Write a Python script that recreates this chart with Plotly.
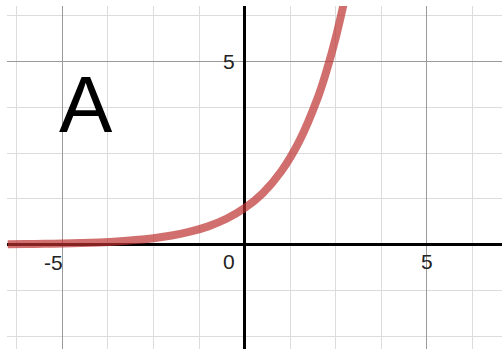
import plotly.graph_objects as go

# Curve points
curve_x = [-6.5, -6.0, -5.5, -5.0, -4.5, -4.0, -3.5, -3.0, -2.5, -2.0, -1.5, -1.0,
           -0.5, 0.0, 0.5, 1.0, 1.5, 2.0, 2.25, 2.5, 2.75]
curve_y = [0.011, 0.016, 0.022, 0.031, 0.044, 0.0625, 0.088, 0.125, 0.177, 0.25, 0.354, 0.5,
           0.707, 1.0, 1.41, 2.0, 2.83, 4.0, 4.76, 5.66, 6.73]

# Axis tick labels (value, text)
x_tick_vals = [-5, 0, 5]
x_tick_text = ["-5", "0", "5"]
y_tick_vals = [5]
y_tick_text = ["5"]

panel_label = "A"

fig = go.Figure()
fig.add_trace(go.Scatter(
    x=curve_x, y=curve_y, mode="lines",
    line=dict(color="rgba(190,50,50,0.7)", width=8, shape="spline"),
    hoverinfo="skip", showlegend=False))

font = dict(family="Liberation Sans, Arial, sans-serif", size=21, color="#222")
annotations = []
for v, t in zip(x_tick_vals, x_tick_text):
    if v == 0:
        annotations.append(dict(x=v, y=-0.45, text=t, showarrow=False, xanchor="right",
                                yanchor="middle", xshift=-8, font=font))
    elif v < 0:
        annotations.append(dict(x=v, y=-0.5, text=t, showarrow=False, xanchor="right",
                                yanchor="middle", xshift=3, font=font))
    else:
        annotations.append(dict(x=v, y=-0.47, text=t, showarrow=False, xanchor="center",
                                yanchor="middle", font=font))
for v, t in zip(y_tick_vals, y_tick_text):
    annotations.append(dict(x=0, y=v, text=t, showarrow=False, xanchor="right",
                            yanchor="middle", xshift=-8, font=font))
annotations.append(dict(x=-4.35, y=3.84, text=panel_label, showarrow=False,
                        xanchor="center", yanchor="middle",
                        font=dict(family="Liberation Sans, Arial, sans-serif", size=80, color="black")))

axis_common = dict(
    showticklabels=False, ticks="", tick0=0, dtick=5,
    showgrid=True, gridcolor="#9a9a9a", gridwidth=1.3,
    minor=dict(tick0=0, dtick=1.25, showgrid=True, gridcolor="#dcdcdc", gridwidth=1.3),
    zeroline=True, zerolinecolor="black", zerolinewidth=3,
    showline=False, fixedrange=True,
)

fig.update_layout(
    width=502, height=351,
    margin=dict(l=7, r=0, t=6, b=2),
    paper_bgcolor="white", plot_bgcolor="white",
    xaxis=dict(range=[-6.52, 7.06], **axis_common),
    yaxis=dict(range=[-2.85, 6.52], **axis_common),
    annotations=annotations,
)

fig.write_html("out.html", config={"displayModeBar": False},
               post_script="document.body.style.margin='0';")
